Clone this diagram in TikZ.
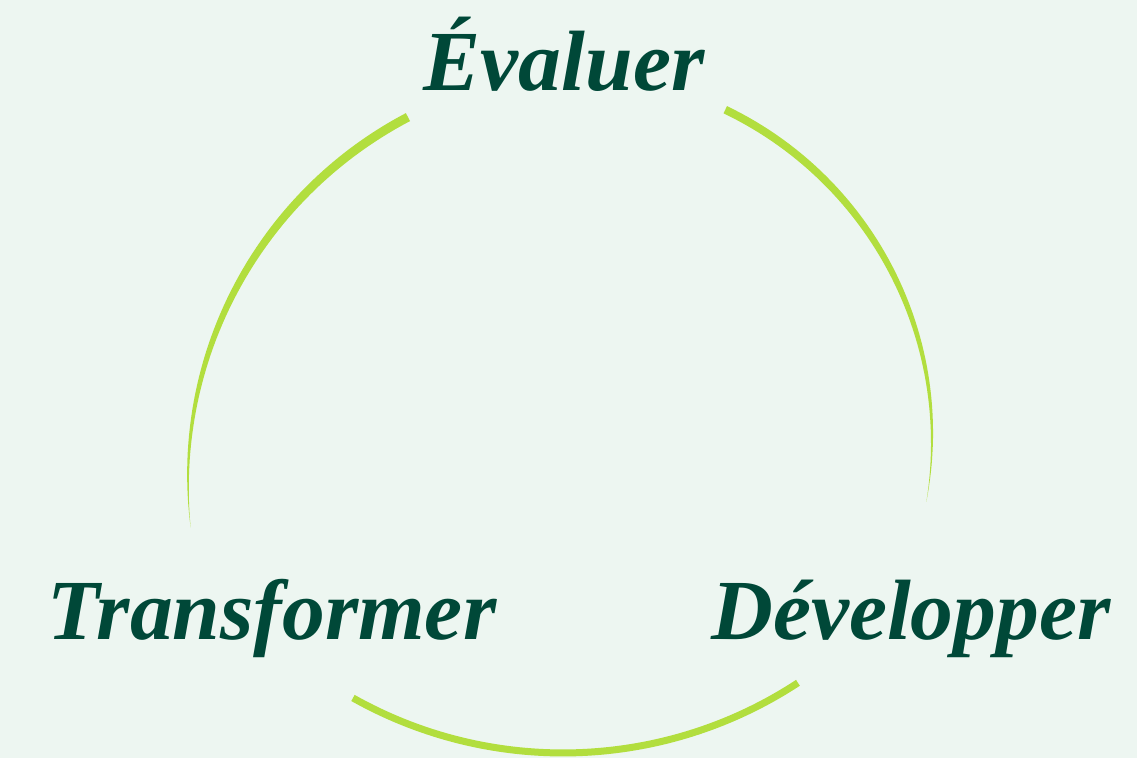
\documentclass[tikz,border=0pt]{standalone}
\usepackage{fontspec}
\setmainfont{Liberation Serif}
\definecolor{bgmint}{RGB}{237,246,241}
\definecolor{lime}{RGB}{178,222,62}
\definecolor{darkgreen}{RGB}{0,72,56}
\begin{document}
\begin{tikzpicture}
  [x=0.5pt,y=0.5pt,every node/.style={anchor=base,text=darkgreen,inner sep=0pt,
   font=\fontsize{42.8}{48}\selectfont\bfseries\itshape}]
  \fill[bgmint] (0,0) rectangle (1137,758);
  \useasboundingbox (0,0) rectangle (1137,758);

  \node (eval)  at (564,667) {Évaluer};
  \node (trans) at (272,118) {Transformer};
  \node (dev)   at (911,118) {Développer};

  % tapered arcs
  \fill[lime,shift={(599,277)}]
    plot[domain=117.7:186.5,samples=60] (\x:{411+4.5*(1-((\x-117.7)/68.8)^2)})
    -- plot[domain=186.5:117.7,samples=60] (\x:{411-4.5*(1-((\x-117.7)/68.8)^2)})
    -- cycle;
  \fill[lime,shift={(568,320)}]
    plot[domain=64.4:-10.1,samples=60] (\x:{364+4*(1-((64.4-\x)/74.5)^2)})
    -- plot[domain=-10.1:64.4,samples=60] (\x:{364-4*(1-((64.4-\x)/74.5)^2)})
    -- cycle;
  \draw[lime,line width=3.5pt] (563,433.5) ++(240.65:428.5)
    arc[start angle=240.65,end angle=303.25,radius=428.5];

\end{tikzpicture}
\end{document}
